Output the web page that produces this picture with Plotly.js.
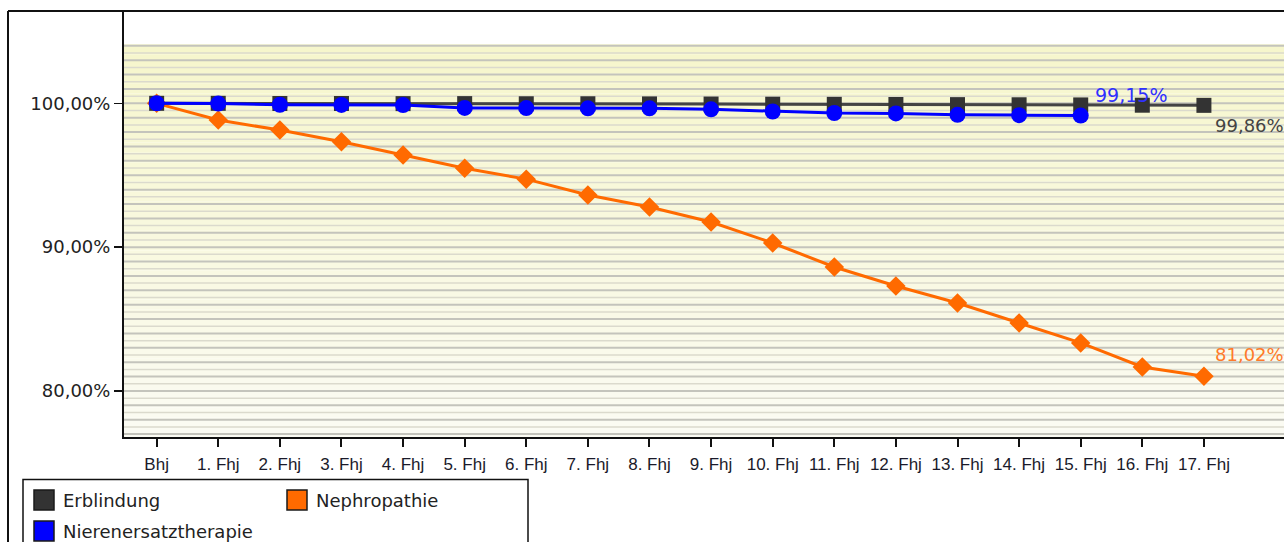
<!DOCTYPE html>
<html><head><meta charset="utf-8">
<script src="https://cdn.plot.ly/plotly-3.0.1.min.js"></script>
<style>html,body{margin:0;padding:0;background:#fff;}#chart{width:1284px;height:542px;}</style>
</head><body><div id="chart"></div>
<script>
// ---- data ----
const categories = ['Bhj','1. Fhj','2. Fhj','3. Fhj','4. Fhj','5. Fhj','6. Fhj','7. Fhj','8. Fhj','9. Fhj',
  '10. Fhj','11. Fhj','12. Fhj','13. Fhj','14. Fhj','15. Fhj','16. Fhj','17. Fhj'];
const erblindung = [100.00,100.00,99.99,99.99,99.98,99.98,99.97,99.97,99.96,99.95,99.94,99.93,99.92,99.91,99.90,99.89,99.87,99.86];
const nephropathie = [100.00,98.84,98.14,97.33,96.41,95.48,94.73,93.63,92.79,91.75,90.29,88.62,87.30,86.12,84.73,83.34,81.67,81.02];
const nierenersatztherapie = [100.00,99.98,99.90,99.89,99.88,99.68,99.67,99.65,99.65,99.58,99.43,99.33,99.30,99.20,99.18,99.15];
const seriesNames = ['Erblindung','Nephropathie','Nierenersatztherapie'];
const yTickVals = [80, 90, 100];
const yTickText = ['80,00%','90,00%','100,00%'];

// ---- styles ----
const colErb = '#333333', colNeph = '#ff6a00', colNier = '#0000ff';
const FONT = 'DejaVu Sans, Verdana, sans-serif';
const W = 1284, H = 542, ML = 124, MR = 0, MT = 11, MB = 105;
const PW = W - ML - MR, PH = H - MT - MB;
const px2x = p => (p - ML) / PW;
const py2y = p => (H - MB - p) / PH;
const Y0 = 76.8, Y1 = 106.42, STRIPE_TOP = 104.1;

function fmt(v){ return v.toFixed(2).replace('.', ',') + '%'; }

const traces = [
  {x: categories, y: nephropathie, name: seriesNames[1], mode: 'lines+markers', showlegend:false,
   line:{color: colNeph, width:3}, marker:{symbol:'diamond', size:15, color: colNeph}},
  {x: categories, y: erblindung, name: seriesNames[0], mode: 'lines+markers', showlegend:false,
   line:{color:'#444444', width:3}, marker:{symbol:'square', size:15, color: colErb}},
  {x: categories.slice(0, nierenersatztherapie.length), y: nierenersatztherapie, name: seriesNames[2], mode: 'lines+markers', showlegend:false,
   line:{color: colNier, width:3}, marker:{symbol:'circle', size:16, color: colNier}}
];

const shapes = [];
// background gradient bands
const nb = 40;
const gradTop = [246,246,204], gradBot = [251,251,243];
for (let i = 0; i < nb; i++) {
  const a = Y0 + (STRIPE_TOP - Y0) * i / nb, b = Y0 + (STRIPE_TOP - Y0) * (i + 1) / nb;
  const t = (i + 0.5) / nb;
  const c = gradBot.map((v, k) => Math.round(v + (gradTop[k] - v) * t));
  shapes.push({type:'rect', xref:'paper', yref:'y', x0:0, x1:1, y0:a, y1:b, layer:'below',
    fillcolor:`rgb(${c.join(',')})`, line:{width:0}});
}
// stripes
for (let v = 77; v <= 104.01; v += 0.5) {
  const major = Math.abs(v - Math.round(v)) < 1e-6;
  shapes.push({type:'line', xref:'paper', yref:'y', x0:0, x1:1, y0:v, y1:v, layer:'below',
    line:{color: major ? '#c4c4bc' : '#dbdacd', width: major ? 2 : 1.5}});
}
// outer frame
shapes.push({type:'line', xref:'paper', yref:'paper', x0:px2x(8), x1:1.01, y0:1, y1:1, line:{color:'#111', width:2}});
shapes.push({type:'line', xref:'paper', yref:'paper', x0:px2x(8), x1:px2x(8), y0:1, y1:py2y(560), line:{color:'#111', width:2}});
// legend box
shapes.push({type:'rect', xref:'paper', yref:'paper', x0:px2x(23), x1:px2x(528), y0:py2y(479.5), y1:py2y(570),
  line:{color:'#111', width:1.5}, fillcolor:'rgba(0,0,0,0)'});
const legendItems = [
  {name: seriesNames[0], color: colErb, lx: 34, ly: 490},
  {name: seriesNames[1], color: colNeph, lx: 287, ly: 490},
  {name: seriesNames[2], color: colNier, lx: 34, ly: 521}
];
const annotations = [];
legendItems.forEach(it => {
  shapes.push({type:'rect', xref:'paper', yref:'paper', x0:px2x(it.lx), x1:px2x(it.lx+20), y0:py2y(it.ly), y1:py2y(it.ly+20),
    fillcolor: it.color, line:{color:'#1a1a1a', width:1.5}});
  annotations.push({xref:'paper', yref:'paper', x:px2x(it.lx+27), y:py2y(it.ly+10), xanchor:'left', yanchor:'middle',
    text: it.name, showarrow:false, font:{family:FONT, size:18, color:'#222'}});
});
// end labels
const lastE = erblindung.length - 1, lastN = nephropathie.length - 1, lastR = nierenersatztherapie.length - 1;
annotations.push({x: categories[lastE], y: erblindung[lastE], text: fmt(erblindung[lastE]), showarrow:false,
  xanchor:'left', yanchor:'middle', xshift:9, yshift:-20, font:{family:FONT, size:18, color:'#444444'}});
annotations.push({x: categories[lastR], y: nierenersatztherapie[lastR], text: fmt(nierenersatztherapie[lastR]), showarrow:false,
  xanchor:'left', yanchor:'middle', xshift:12, yshift:21, font:{family:FONT, size:19, color:'#3030ff'}});
annotations.push({x: categories[lastN], y: nephropathie[lastN], text: fmt(nephropathie[lastN]), showarrow:false,
  xanchor:'left', yanchor:'middle', xshift:9, yshift:22, font:{family:FONT, size:18, color:'#ff7a2a'}});

const layout = {
  width: W, height: H,
  margin: {l: ML, r: MR, t: MT, b: MB, pad: 0},
  paper_bgcolor: '#ffffff', plot_bgcolor: '#ffffff',
  showlegend: false,
  xaxis: {type:'category', range:[-0.53, 18.30], showgrid:false, zeroline:false,
    showline:true, linecolor:'#111', linewidth:2, ticks:'outside', ticklen:8, tickwidth:2, tickcolor:'#111',
    ticklabelstandoff:3,
    tickfont:{family:'Liberation Sans, Arial, sans-serif', size:17, color:'#1a1a2a'}},
  yaxis: {range:[Y0, Y1], showgrid:false, zeroline:false, tickmode:'array', tickvals:yTickVals, ticktext:yTickText,
    showline:true, linecolor:'#111', linewidth:2, ticks:'outside', ticklen:8, tickwidth:1.5, tickcolor:'#111',
    tickfont:{family:FONT, size:18, color:'#222'}},
  shapes: shapes,
  annotations: annotations
};
Plotly.newPlot('chart', traces, layout, {displayModeBar:false, staticPlot:true});
</script></body></html>
